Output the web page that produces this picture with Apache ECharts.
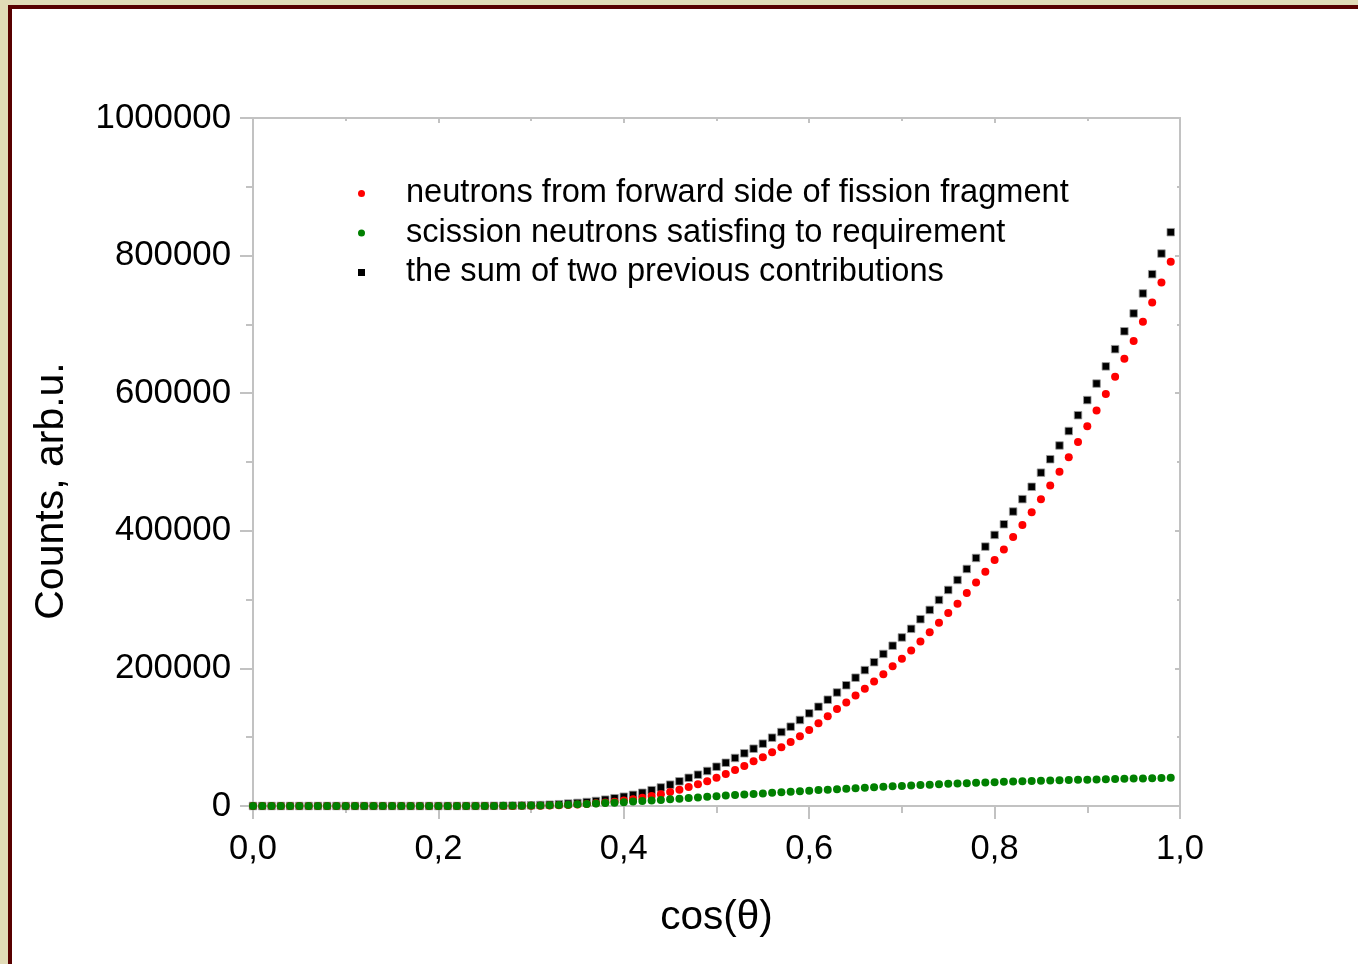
<!DOCTYPE html>
<html>
<head>
<meta charset="utf-8">
<script src="https://cdn.jsdelivr.net/npm/echarts@6/dist/echarts.min.js"></script>
<style>
  html, body { margin: 0; padding: 0; width: 1358px; height: 964px; overflow: hidden; background: #e1dbb7; }
  #panel { position: absolute; left: 8px; top: 5px; right: 0; bottom: 0; background: #ffffff;
           border-left: 4px solid #580000; border-top: 4px solid #580000; }
  #chart { position: absolute; left: 0; top: 0; width: 1358px; height: 964px; }
</style>
</head>
<body>
<div id="panel"></div>
<div id="chart"></div>
<script>
// cos(theta) values
const cosTheta = [
  0.00, 0.01, 0.02, 0.03, 0.04, 0.05, 0.06, 0.07, 0.08, 0.09,
  0.10, 0.11, 0.12, 0.13, 0.14, 0.15, 0.16, 0.17, 0.18, 0.19,
  0.20, 0.21, 0.22, 0.23, 0.24, 0.25, 0.26, 0.27, 0.28, 0.29,
  0.30, 0.31, 0.32, 0.33, 0.34, 0.35, 0.36, 0.37, 0.38, 0.39,
  0.40, 0.41, 0.42, 0.43, 0.44, 0.45, 0.46, 0.47, 0.48, 0.49,
  0.50, 0.51, 0.52, 0.53, 0.54, 0.55, 0.56, 0.57, 0.58, 0.59,
  0.60, 0.61, 0.62, 0.63, 0.64, 0.65, 0.66, 0.67, 0.68, 0.69,
  0.70, 0.71, 0.72, 0.73, 0.74, 0.75, 0.76, 0.77, 0.78, 0.79,
  0.80, 0.81, 0.82, 0.83, 0.84, 0.85, 0.86, 0.87, 0.88, 0.89,
  0.90, 0.91, 0.92, 0.93, 0.94, 0.95, 0.96, 0.97, 0.98, 0.99
];
// neutrons from forward side of fission fragment (red)
const forwardNeutrons = [
  0, 0, 0, 0, 0, 0, 0, 0, 0, 0,
  0, 0, 0, 0, 0, 0, 0, 0, 0, 0,
  0, 0, 0, 0, 10, 20, 40, 70, 120, 200,
  320, 500, 750, 1100, 1600, 2200, 3000, 3900, 5000, 6300,
  7900, 9700, 12000, 14400, 17200, 20300, 23700, 27600, 31700, 35900,
  41100, 46500, 52300, 58100, 65000, 70800, 78100, 85300, 93000, 101300,
  110500, 120200, 130500, 141000, 150500, 160500, 170500, 181000, 191500, 203000,
  214000, 226000, 239000, 252500, 266500, 280500, 294000, 309500, 325000, 340500,
  357500, 373000, 391000, 408500, 427000, 446000, 466000, 486000, 507000, 529000,
  552000, 575000, 599000, 624000, 650000, 676000, 704000, 732000, 761000, 791000
];
// scission neutrons satisfing to requirement (green)
const scissionNeutrons = [
  0, 0, 0, 0, 0, 0, 0, 0, 0, 0,
  0, 0, 0, 0, 0, 0, 0, 0, 0, 0,
  0, 10, 20, 40, 70, 110, 170, 250, 360, 500,
  680, 900, 1170, 1500, 1900, 2400, 2950, 3550, 4200, 4900,
  5600, 6400, 7200, 8000, 8900, 9800, 10700, 11600, 12500, 13400,
  14300, 15100, 15900, 16700, 17500, 18300, 19100, 19900, 20700, 21500,
  22300, 23100, 23800, 24500, 25200, 25900, 26600, 27300, 28000, 28600,
  29200, 29800, 30400, 31000, 31600, 32200, 32700, 33200, 33700, 34200,
  34700, 35100, 35500, 35900, 36300, 36700, 37100, 37400, 37700, 38000,
  38300, 38600, 38900, 39200, 39500, 39800, 40100, 40400, 40700, 41000
];
// the sum of two previous contributions (black)
const sumContributions = [
  0, 0, 0, 0, 0, 0, 0, 0, 0, 0,
  0, 0, 0, 0, 0, 0, 0, 0, 0, 0,
  0, 10, 30, 50, 80, 130, 210, 320, 480, 700,
  1000, 1400, 1900, 2600, 3500, 4500, 5800, 7300, 9200, 11300,
  13500, 16200, 19300, 23000, 27000, 31000, 35900, 41000, 45500, 50900,
  57100, 62900, 69800, 76600, 83300, 90600, 99300, 107500, 115300, 125000,
  134700, 144300, 154500, 165000, 175500, 186500, 197500, 209000, 221000, 233000,
  245000, 257500, 271500, 285000, 299500, 314000, 328500, 344500, 360500, 377000,
  394000, 409500, 428000, 446000, 464000, 484500, 504000, 524000, 545000, 568000,
  590000, 614000, 639000, 664000, 690000, 716000, 745000, 773000, 803000, 834000
];
const seriesNames = [
  'neutrons from forward side of fission fragment',
  'scission neutrons satisfing to requirement',
  'the sum of two previous contributions'
];
const xTickValues = [0, 0.2, 0.4, 0.6, 0.8, 1.0];
const yTickValues = [0, 200000, 400000, 600000, 800000, 1000000];

function zip(xs, ys) { return xs.map((x, i) => [x, ys[i]]); }

const chart = echarts.init(document.getElementById('chart'), null, { renderer: 'canvas' });
const axisGray = '#c2c2c2';
const FONT = '"Liberation Sans", Arial, sans-serif';

chart.setOption({
  animation: false,
  backgroundColor: 'transparent',
  textStyle: { fontFamily: FONT },
  grid: { left: 253, right: 178, top: 118, bottom: 158, containLabel: false },
  legend: {
    orient: 'vertical',
    left: 353,
    top: 172,
    itemWidth: 7,
    itemHeight: 7,
    itemGap: 6.5,
    selectedMode: false,
    itemStyle: { borderWidth: 0 },
    textStyle: { fontSize: 32.6, lineHeight: 32.5, color: '#000', fontFamily: FONT, padding: [0, 0, 0, 36] },
    data: [
      { name: seriesNames[0], icon: 'circle' },
      { name: seriesNames[1], icon: 'circle' },
      { name: seriesNames[2], icon: 'rect' }
    ]
  },
  xAxis: [
    {
      type: 'value', position: 'bottom', min: 0, max: 1, interval: 0.2,
      axisLine: { show: true, onZero: false, lineStyle: { color: axisGray, width: 2 } },
      axisTick: { show: true, inside: false, length: 13, lineStyle: { color: axisGray, width: 2 } },
      minorTick: { show: true, splitNumber: 2, length: 7, lineStyle: { color: axisGray, width: 2 } },
      splitLine: { show: false },
      axisLabel: {
        margin: 26, fontSize: 34.5, color: '#000', fontFamily: FONT,
        formatter: v => v.toFixed(1).replace('.', ',')
      },
      name: 'cos(\u03B8)', nameLocation: 'middle', nameGap: 91,
      nameTextStyle: { fontSize: 40.5, color: '#000', fontFamily: FONT }
    },
    {
      type: 'value', position: 'top', min: 0, max: 1, interval: 0.2,
      axisLine: { show: true, onZero: false, lineStyle: { color: axisGray, width: 2 } },
      axisTick: { show: true, inside: true, length: 5, lineStyle: { color: axisGray, width: 2 } },
      minorTick: { show: true, splitNumber: 2, length: 3, lineStyle: { color: axisGray, width: 2 } },
      splitLine: { show: false },
      axisLabel: { show: false }
    }
  ],
  yAxis: [
    {
      type: 'value', position: 'left', min: 0, max: 1000000, interval: 200000,
      axisLine: { show: true, onZero: false, lineStyle: { color: axisGray, width: 2 } },
      axisTick: { show: true, inside: false, length: 13, lineStyle: { color: axisGray, width: 2 } },
      minorTick: { show: true, splitNumber: 2, length: 7, lineStyle: { color: axisGray, width: 2 } },
      splitLine: { show: false },
      axisLabel: { margin: 22, fontSize: 34.8, color: '#000', fontFamily: FONT, formatter: v => String(v) }
    },
    {
      type: 'value', position: 'right', min: 0, max: 1000000, interval: 200000,
      axisLine: { show: true, onZero: false, lineStyle: { color: axisGray, width: 2 } },
      axisTick: { show: true, inside: true, length: 5, lineStyle: { color: axisGray, width: 2 } },
      minorTick: { show: true, splitNumber: 2, length: 3, lineStyle: { color: axisGray, width: 2 } },
      splitLine: { show: false },
      axisLabel: { show: false }
    }
  ],
  graphic: [
    {
      type: 'text', x: 52, y: 491, rotation: Math.PI / 2,
      style: { text: 'Counts, arb.u.', fontSize: 41, fontFamily: FONT, fill: '#000', align: 'center', verticalAlign: 'middle' }
    }
  ],
  series: [
    {
      name: seriesNames[0], type: 'scatter', xAxisIndex: 0, yAxisIndex: 0, z: 3,
      symbol: 'circle', symbolSize: 8,
      itemStyle: { color: '#ff0000', opacity: 1 },
      data: zip(cosTheta, forwardNeutrons)
    },
    {
      name: seriesNames[1], type: 'scatter', xAxisIndex: 0, yAxisIndex: 0, z: 4,
      symbol: 'circle', symbolSize: 8,
      itemStyle: { color: '#008000', opacity: 1 },
      data: zip(cosTheta, scissionNeutrons)
    },
    {
      name: seriesNames[2], type: 'scatter', xAxisIndex: 0, yAxisIndex: 0, z: 2,
      symbol: 'rect', symbolSize: 7.5,
      itemStyle: { color: '#000000', borderColor: '#9a9a9a', borderWidth: 0.8, opacity: 1 },
      data: zip(cosTheta, sumContributions)
    }
  ]
});
</script>
</body>
</html>
